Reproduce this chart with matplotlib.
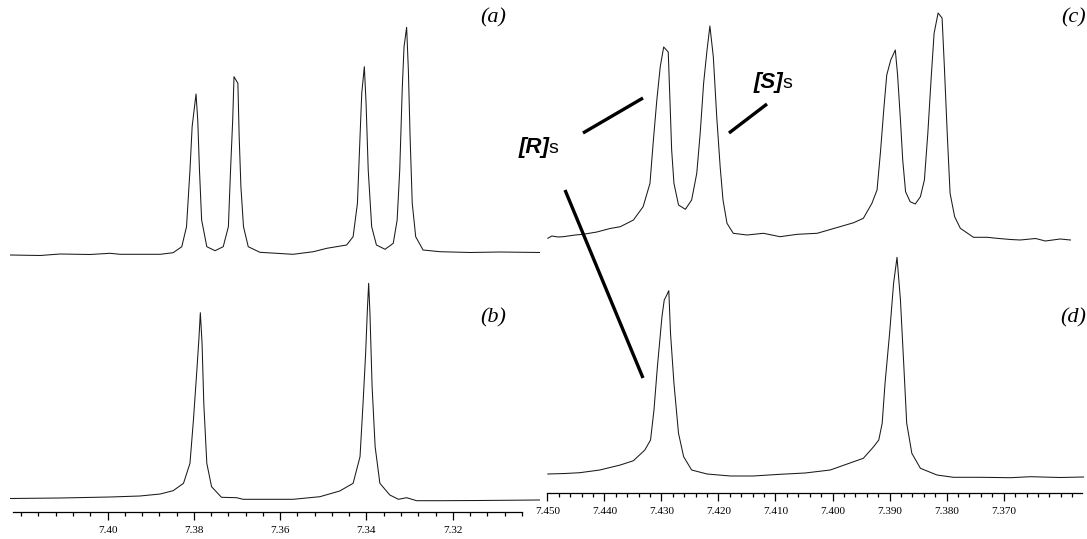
import matplotlib
matplotlib.use("Agg")
import numpy as np
import matplotlib.pyplot as plt
from matplotlib.lines import Line2D
from matplotlib.ticker import FixedLocator, FormatStrFormatter

# spectra: chemical shift (ppm) and intensity (a.u.)
ppm_a = [7.4226, 7.4156, 7.4110, 7.4041, 7.3994, 7.3971, 7.3878, 7.3848, 7.3828, 7.3817,
         7.3809, 7.3804, 7.3795, 7.3791, 7.3787, 7.3782, 7.3770, 7.3751, 7.3732, 7.3720,
         7.3715, 7.3710, 7.3707, 7.3698, 7.3695, 7.3691, 7.3685, 7.3674, 7.3647, 7.3570,
         7.3523, 7.3492, 7.3446, 7.3431, 7.3421, 7.3415, 7.3411, 7.3405, 7.3401, 7.3396,
         7.3388, 7.3377, 7.3357, 7.3338, 7.3329, 7.3323, 7.3317, 7.3313, 7.3307, 7.3303,
         7.3299, 7.3294, 7.3286, 7.3269, 7.3230, 7.3160, 7.3091, 7.2998]
int_a = [0, -0.5, 1, 0.5, 1.7, 0.7, 0.7, 2.3, 8.3, 28.3,
         85, 128.3, 161, 135, 85, 35, 8.3, 4.3, 8.3, 28.3,
         85, 135, 178.3, 171.7, 118.3, 68.3, 28.3, 8.3, 2.7, 0.7,
         3.3, 6.7, 10, 18.3, 51.7, 118.3, 161.7, 188.3, 151.7, 85,
         28.3, 10, 5.7, 11.7, 35, 85, 168.3, 208.3, 227.7, 185,
         118.3, 51.7, 18.3, 5, 3.3, 2.5, 3, 2.5]

ppm_b = [7.4226, 7.4110, 7.3994, 7.3925, 7.3878, 7.3848, 7.3824, 7.3809, 7.3801, 7.3793,
         7.3788, 7.3785, 7.3781, 7.3777, 7.3770, 7.3759, 7.3736, 7.3701, 7.3686, 7.3570,
         7.3508, 7.3462, 7.3431, 7.3415, 7.3408, 7.3402, 7.3398, 7.3395, 7.3392, 7.3387,
         7.3380, 7.3369, 7.3346, 7.3326, 7.3307, 7.3284, 7.3230, 7.3137, 7.2998]
int_b = [1.5, 2, 3, 4, 6, 9.3, 16.7, 36.7, 80, 130,
         163.3, 187.3, 156.7, 96.7, 36.7, 13.3, 2.7, 2.3, 0.7, 0.7,
         3.3, 9, 16.7, 43.3, 96.7, 146.7, 190, 216.7, 186.7, 113.3,
         53.3, 16.7, 5, 0.7, 2.3, -0.7, -0.7, -0.5, 0]

ppm_c = [7.4499, 7.4492, 7.4481, 7.4472, 7.4451, 7.4437, 7.4413, 7.4390, 7.4372, 7.4349,
         7.4332, 7.4320, 7.4314, 7.4308, 7.4302, 7.4296, 7.4288, 7.4285, 7.4282, 7.4278,
         7.4270, 7.4258, 7.4247, 7.4238, 7.4232, 7.4226, 7.4220, 7.4215, 7.4209, 7.4203,
         7.4197, 7.4192, 7.4185, 7.4174, 7.4150, 7.4121, 7.4092, 7.4062, 7.4027, 7.4007,
         7.3987, 7.3963, 7.3946, 7.3931, 7.3922, 7.3916, 7.3910, 7.3905, 7.3898, 7.3890,
         7.3886, 7.3881, 7.3877, 7.3872, 7.3864, 7.3855, 7.3846, 7.3839, 7.3833, 7.3827,
         7.3822, 7.3815, 7.3808, 7.3804, 7.3799, 7.3794, 7.3786, 7.3776, 7.3753, 7.3729,
         7.3712, 7.3688, 7.3671, 7.3644, 7.3627, 7.3601, 7.3583]
int_c = [1.7, 4, 3, 3.3, 5, 5.7, 8, 11.5, 13.3, 20,
         33.3, 56.7, 100, 140, 173.3, 193, 188, 140, 90, 56.7,
         35, 30.7, 40, 66.7, 106.7, 156.7, 190, 214, 183.3, 123.3,
         73.3, 40, 16.7, 6.7, 5, 6.7, 3.3, 5.7, 6.7, 10,
         13.3, 17.3, 21.7, 36.7, 50, 88, 132, 165, 180, 190,
         165, 120, 80, 48.3, 38.3, 36, 43.3, 60, 106.7, 163.3,
         206.7, 227, 222, 173.3, 106.7, 46.7, 23.3, 11.7, 2.7, 2.7,
         1.7, 0.5, 0, 1.5, -1, 1, 0]

ppm_d = [7.4499, 7.4469, 7.4443, 7.4408, 7.4372, 7.4349, 7.4329, 7.4319, 7.4313, 7.4307,
         7.4299, 7.4295, 7.4292, 7.4287, 7.4284, 7.4278, 7.4270, 7.4261, 7.4247, 7.4220,
         7.4179, 7.4139, 7.4092, 7.4048, 7.4004, 7.3963, 7.3946, 7.3928, 7.3919, 7.3913,
         7.3908, 7.3900, 7.3893, 7.3887, 7.3881, 7.3875, 7.3870, 7.3861, 7.3846, 7.3817,
         7.3788, 7.3741, 7.3688, 7.3653, 7.3601, 7.3560]
int_d = [4, 4.5, 5.3, 8, 13, 17.3, 28, 38, 68, 111.3,
         161.3, 178, 181.3, 187.3, 144.7, 94.7, 44.7, 21.3, 8, 4,
         2, 2, 3.7, 5, 8, 16.3, 19.7, 31.3, 38, 54.7,
         94.7, 144.7, 194.7, 220.7, 178, 111.3, 54.7, 24.7, 9.7, 3,
         0.7, 0.7, 0.3, 1.3, 0.5, 1]

left_major = [7.40, 7.38, 7.36, 7.34, 7.32]
right_major = [7.450, 7.440, 7.430, 7.420, 7.410, 7.400, 7.390, 7.380, 7.370]
panel_labels = ["(a)", "(b)", "(c)", "(d)"]

W, H = 1087, 539
fig = plt.figure(figsize=(W / 100, H / 100), dpi=100)


def fx(x):
    return x / W


def fy(y):
    return 1 - y / H


line_kw = dict(color="#1a1a1a", lw=0.75)
tick_font = dict(family="Liberation Serif", size=8)


def style_axis(ax, bounds, majors, minors, fmt):
    for s in ["left", "right", "top"]:
        ax.spines[s].set_visible(False)
    ax.spines["bottom"].set_bounds(*bounds)
    ax.spines["bottom"].set_linewidth(0.9)
    ax.set_yticks([])
    ax.xaxis.set_major_locator(FixedLocator(majors))
    ax.xaxis.set_minor_locator(FixedLocator(minors))
    ax.xaxis.set_major_formatter(FormatStrFormatter(fmt))
    ax.tick_params(axis="x", which="major", length=6, width=0.9, pad=4)
    ax.tick_params(axis="x", which="minor", length=3, width=0.9)
    for lab in ax.get_xticklabels():
        lab.set_fontfamily(tick_font["family"])
        lab.set_fontsize(tick_font["size"])
    ax.patch.set_visible(False)


# left panel: (a) on top, (b) below
axL = fig.add_axes([fx(10), fy(512), (540 - 10) / W, 512 / H])
axL.plot(ppm_a, np.array(int_a) + 257, **line_kw)
axL.plot(ppm_b, np.array(int_b) + 12, **line_kw)
axL.set_xlim(7.4226, 7.2998)
axL.set_ylim(0, 512)
minL = [m for m in np.round(np.arange(7.304, 7.4201, 0.004), 3) if m not in left_major]
style_axis(axL, (7.4218, 7.304), left_major, minL, "%.2f")

# right panel: (c) on top, (d) below
axR = fig.add_axes([fx(547), fy(493), (1087 - 547) / W, 493 / H])
axR.plot(ppm_c, np.array(int_c) + 253, **line_kw)
axR.plot(ppm_d, np.array(int_d) + 15, **line_kw)
axR.set_xlim(7.45005, 7.3554)
axR.set_ylim(0, 493)
minR = [m for m in np.round(np.arange(7.358, 7.4501, 0.002), 3) if m not in right_major]
style_axis(axR, (7.450, 7.3562), right_major, minR, "%.3f")

# panel letters
lab_pos = [(506, 18), (506, 318), (1086, 18), (1086, 318)]
for txt, (x, y) in zip(panel_labels, lab_pos):
    fig.text(fx(x), fy(y), txt, ha="right", va="center", fontsize=16,
             family="Liberation Serif", style="italic")

# enantiomer annotations
for (x0, y0, x1, y1) in [(583, 133, 643, 98), (729, 133, 767, 104), (565, 190, 643, 378)]:
    fig.add_artist(Line2D([fx(x0), fx(x1)], [fy(y0), fy(y1)], color="black", lw=2.4,
                          transform=fig.transFigure, solid_capstyle="butt"))

fig.canvas.draw()
rend = fig.canvas.get_renderer()
for lab, (x, y) in [("[R]", (519, 153)), ("[S]", (754, 88))]:
    t = fig.text(fx(x), fy(y), lab, ha="left", va="baseline", fontsize=16,
                 family="Liberation Sans", weight="bold", style="italic")
    bb = t.get_window_extent(rend)
    fig.text((bb.x1 - 1) / W, fy(y), "s", ha="left", va="baseline", fontsize=14,
             family="Liberation Sans")

fig.savefig("out.png", dpi=100)
